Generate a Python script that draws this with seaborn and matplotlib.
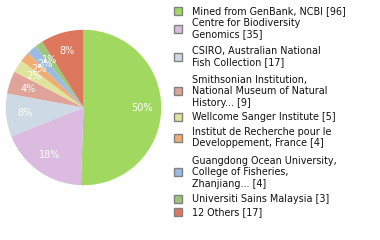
import matplotlib
matplotlib.use("Agg")
import matplotlib.pyplot as plt
import matplotlib.patches as mpatches
import seaborn as sns

labels = ["Mined from GenBank, NCBI [96]",
          "Centre for Biodiversity\nGenomics [35]",
          "CSIRO, Australian National\nFish Collection [17]",
          "Smithsonian Institution,\nNational Museum of Natural\nHistory... [9]",
          "Wellcome Sanger Institute [5]",
          "Institut de Recherche pour le\nDeveloppement, France [4]",
          "Guangdong Ocean University,\nCollege of Fisheries,\nZhanjiang... [4]",
          "Universiti Sains Malaysia [3]",
          "12 Others [17]"]
values = [96, 35, 17, 9, 5, 4, 4, 3, 17]
colors = sns.color_palette(["#a0d860", "#dbbbdf", "#cddae6", "#e0a39a", "#e0e39e",
                            "#f0ad72", "#9bbbe0", "#9cc67a", "#dd785e"])

sns.set_style("white")
plt.rcParams['font.family'] = ['DejaVu Sans']

W, H = 380, 240
fig = plt.figure(figsize=(W / 100, H / 100), dpi=100)

# pie axes
cx, cy, r = 83.5, 107.5, 78.5
ax = fig.add_axes([(cx - r) / W, (H - cy - r) / H, 2 * r / W, 2 * r / H])
ax.pie(values, colors=colors, startangle=90, counterclock=False,
       autopct=lambda p: f"{int(p)}%", pctdistance=0.75,
       wedgeprops=dict(linewidth=0),
       textprops=dict(color="white", fontsize=7))
ax.set_xlim(-1.01, 1.01)
ax.set_ylim(-1.01, 1.01)
ax.set_aspect("auto")
ax.axis("off")

# legend layout (pixel rows of each entry's first line)
row_y = [11, 23, 51, 80, 117, 132, 161, 199, 212]
line_h = 11.4
tx = 192
sx = 174
sw = 8
for lab, col, y in zip(labels, colors, row_y):
    n = lab.count("\n") + 1
    for i, line in enumerate(lab.split("\n")):
        fig.text(tx / W, 1 - (y + i * line_h) / H, line, fontsize=6.9,
                 va="center", ha="left", color="#111111")
    mid = y + (n - 1) * line_h / 2
    fig.patches.append(mpatches.Rectangle((sx / W, 1 - (mid + sw / 2) / H), sw / W, sw / H,
                                          transform=fig.transFigure, facecolor=col,
                                          edgecolor="#808080", linewidth=1))

fig.savefig("out.png", dpi=100)
